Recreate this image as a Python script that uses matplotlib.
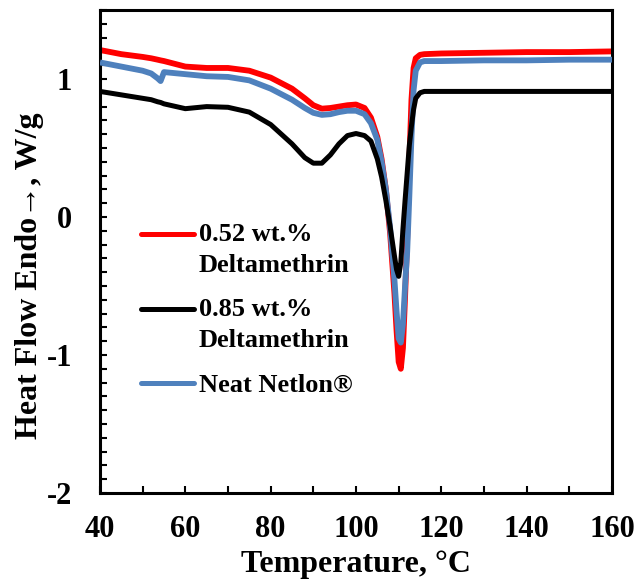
import numpy as np
import matplotlib
matplotlib.use('Agg')
import matplotlib.pyplot as plt
from matplotlib.ticker import MultipleLocator, FuncFormatter
from matplotlib.legend_handler import HandlerLine2D

plt.rcParams['font.family'] = ['Liberation Serif', 'DejaVu Serif']
plt.rcParams['font.weight'] = 'bold'

# DSC heat flow traces (W/g) vs temperature (°C)
temperature = [40, 45, 50, 52, 53.5, 54.2, 55, 60, 65, 70, 75, 80, 85, 88, 90,
               92, 94, 96, 98, 100, 102, 103.5, 105, 106, 107, 108, 109, 109.5,
               110, 110.5, 111, 111.5, 112, 112.5, 113, 113.5, 114, 115, 116,
               120, 130, 140, 150, 160]

heat_052 = [1.21, 1.18, 1.16, 1.15, 1.14, 1.135, 1.13, 1.09, 1.08, 1.08, 1.06,
            1.01, 0.93, 0.86, 0.81, 0.785, 0.79, 0.80, 0.81, 0.815, 0.79, 0.72,
            0.58, 0.42, 0.20, -0.12, -0.55, -0.82, -1.05, -1.10, -0.95, -0.58,
            -0.15, 0.40, 0.85, 1.08, 1.15, 1.175, 1.18, 1.185, 1.19, 1.195,
            1.195, 1.20]

heat_085 = [0.91, 0.885, 0.86, 0.85, 0.835, 0.83, 0.82, 0.785, 0.80, 0.795,
            0.76, 0.67, 0.53, 0.43, 0.39, 0.39, 0.45, 0.53, 0.59, 0.605, 0.59,
            0.55, 0.42, 0.29, 0.12, -0.07, -0.28, -0.38, -0.43, -0.33, -0.09,
            0.12, 0.32, 0.52, 0.66, 0.78, 0.86, 0.90, 0.91, 0.91, 0.91, 0.91,
            0.91, 0.91]

heat_neat = [1.12, 1.09, 1.06, 1.04, 1.005, 0.985, 1.05, 1.035, 1.02, 1.015,
             0.99, 0.93, 0.85, 0.79, 0.755, 0.74, 0.745, 0.76, 0.77, 0.77,
             0.745, 0.68, 0.56, 0.40, 0.20, -0.08, -0.45, -0.68, -0.88, -0.91,
             -0.78, -0.50, -0.25, 0.15, 0.58, 0.92, 1.06, 1.12, 1.13, 1.13,
             1.135, 1.135, 1.14, 1.14]

labels = ['0.52 wt.%\nDeltamethrin', '0.85 wt.%\nDeltamethrin', 'Neat Netlon®']
colors = ['#FF0000', '#000000', '#4F81BD']


class TopLineHandler(HandlerLine2D):
    # put the legend line next to the first row of a two-row label
    def __init__(self, shift, **kw):
        super().__init__(**kw)
        self.shift = shift

    def create_artists(self, legend, orig_handle, xdescent, ydescent,
                       width, height, fontsize, trans):
        arts = super().create_artists(legend, orig_handle, xdescent, ydescent,
                                      width, height, fontsize, trans)
        for a in arts:
            a.set_ydata(np.asarray(a.get_ydata()) + self.shift)
        return arts


fig = plt.figure(figsize=(6.35, 5.87), dpi=100)
ax = fig.add_axes([100 / 635, 94 / 587, 512 / 635, 483 / 587])

l1, = ax.plot(temperature, heat_052, color=colors[0], lw=4.2, zorder=2,
              solid_capstyle='butt')
l3, = ax.plot(temperature, heat_neat, color=colors[2], lw=4.2, zorder=3,
              solid_capstyle='butt')
l2, = ax.plot(temperature, heat_085, color=colors[1], lw=3.6, zorder=4,
              solid_capstyle='butt')

ax.set_xlim(40, 160)
ax.set_ylim(-2, 1.5)
ax.xaxis.set_major_locator(MultipleLocator(20))
ax.xaxis.set_minor_locator(MultipleLocator(10))
ax.yaxis.set_major_locator(MultipleLocator(1))
ax.yaxis.set_minor_locator(MultipleLocator(0.1))
ax.yaxis.set_major_formatter(FuncFormatter(lambda v, p: '%d' % v))
ax.tick_params(which='both', direction='in', length=5, width=1.5,
               top=False, right=False)
ax.tick_params(axis='x', which='major', labelsize=22, pad=16)
ax.tick_params(axis='y', which='major', labelsize=22, pad=20)

for s in ax.spines.values():
    s.set_linewidth(2.2)

ax.set_xlabel('Temperature, °C', fontsize=23, fontweight='bold')
ax.set_ylabel('Heat Flow Endo\u2192, W/g', fontsize=23, fontweight='bold')
ax.xaxis.set_label_coords(0.5, -0.118)
ax.yaxis.set_label_coords(-0.11, 0.45)

two_row = TopLineHandler(shift=11)
leg = ax.legend([l1, l2, l3], labels, loc='upper left',
                bbox_to_anchor=(0.08, 0.559), frameon=False, fontsize=19,
                handlelength=2.0, handletextpad=0.2, labelspacing=0.82,
                borderpad=0, borderaxespad=0,
                handler_map={l1: two_row, l2: two_row})
for t in leg.get_texts():
    t.set_linespacing(1.42)
for h in leg.get_lines():
    h.set_linewidth(3.6)
    h.set_solid_capstyle('round')

fig.savefig('out.png', dpi=100)
